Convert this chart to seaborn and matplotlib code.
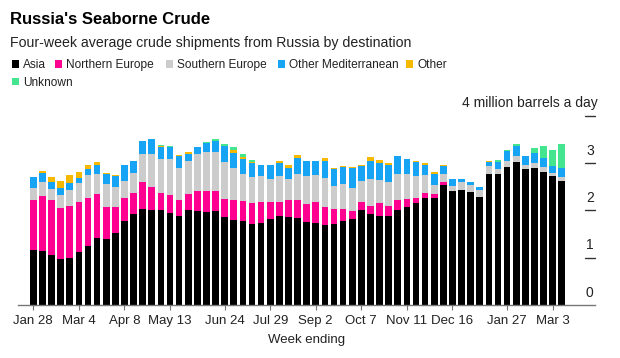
import numpy as np
import pandas as pd
import matplotlib
matplotlib.use('Agg')
import matplotlib.pyplot as plt
import matplotlib.transforms as mtransforms
from matplotlib.patches import Rectangle
import seaborn as sns

# weekly data, week ending Fridays
WEEKS = pd.date_range('2022-01-28', periods=59, freq='7D').strftime('%Y-%m-%d').tolist()

# million barrels a day, four-week average
asia = [1.16, 1.15, 1.06, 0.97, 0.99, 1.11, 1.25, 1.41, 1.39, 1.53,
        1.78, 1.92, 2.03, 2.01, 2.01, 1.95, 1.88, 2.01, 1.99, 1.97,
        1.98, 1.85, 1.80, 1.78, 1.71, 1.74, 1.82, 1.88, 1.85, 1.84,
        1.75, 1.74, 1.70, 1.72, 1.78, 1.81, 2.01, 1.92, 1.88, 1.88,
        2.01, 2.08, 2.16, 2.27, 2.26, 2.54, 2.40, 2.43, 2.39, 2.29,
        2.78, 2.77, 2.92, 3.02, 2.87, 2.89, 2.81, 2.73, 2.62]
northern_europe = [1.06, 1.16, 1.15, 1.09, 1.10, 1.07, 1.02, 0.94, 0.68, 0.54,
                   0.48, 0.44, 0.58, 0.49, 0.36, 0.38, 0.33, 0.34, 0.42, 0.43,
                   0.42, 0.39, 0.42, 0.42, 0.44, 0.44, 0.36, 0.30, 0.37, 0.38,
                   0.38, 0.44, 0.37, 0.30, 0.26, 0.18, 0.16, 0.18, 0.27, 0.22,
                   0.21, 0.16, 0.10, 0.09, 0.08, 0.06, 0.01, 0.0, 0.0, 0.0,
                   0.0, 0.0, 0.0, 0.0, 0.0, 0.0, 0.0, 0.0, 0.0]
southern_europe = [0.25, 0.30, 0.24, 0.27, 0.34, 0.39, 0.48, 0.43, 0.48, 0.43,
                   0.37, 0.44, 0.58, 0.69, 0.72, 0.75, 0.69, 0.69, 0.78, 0.83,
                   0.83, 0.79, 0.67, 0.57, 0.56, 0.55, 0.48, 0.55, 0.44, 0.55,
                   0.60, 0.57, 0.61, 0.50, 0.52, 0.49, 0.46, 0.56, 0.49, 0.51,
                   0.56, 0.54, 0.47, 0.39, 0.20, 0.17, 0.11, 0.16, 0.15, 0.14,
                   0.16, 0.10, 0.13, 0.13, 0.09, 0.11, 0.10, 0.07, 0.09]
other_med = [0.24, 0.19, 0.14, 0.14, 0.14, 0.12, 0.12, 0.19, 0.23, 0.23,
             0.34, 0.24, 0.28, 0.33, 0.26, 0.27, 0.24, 0.15, 0.14, 0.20,
             0.24, 0.34, 0.33, 0.31, 0.29, 0.23, 0.29, 0.28, 0.24, 0.34,
             0.32, 0.30, 0.37, 0.35, 0.35, 0.42, 0.31, 0.39, 0.36, 0.36,
             0.38, 0.31, 0.29, 0.22, 0.24, 0.17, 0.14, 0.07, 0.07, 0.06,
             0.08, 0.16, 0.21, 0.21, 0.20, 0.22, 0.19, 0.14, 0.19]
other = [0.0, 0.03, 0.11, 0.15, 0.18, 0.13, 0.10, 0.05, 0.01, 0.02,
         0.0, 0.0, 0.0, 0.0, 0.01, 0.0, 0.03, 0.04, 0.0, 0.0,
         0.0, 0.0, 0.05, 0.04, 0.03, 0.0, 0.02, 0.03, 0.07, 0.06,
         0.0, 0.0, 0.05, 0.02, 0.03, 0.02, 0.03, 0.07, 0.07, 0.03,
         0.0, 0.0, 0.03, 0.04, 0.03, 0.01, 0.0, 0.0, 0.0, 0.0,
         0.02, 0.0, 0.0, 0.01, 0.0, 0.0, 0.0, 0.0, 0.0]
unknown = [0.0, 0.0, 0.0, 0.0, 0.0, 0.0, 0.0, 0.0, 0.0, 0.0,
           0.0, 0.0, 0.0, 0.0, 0.02, 0.02, 0.0, 0.0, 0.0, 0.02,
           0.05, 0.04, 0.06, 0.07, 0.04, 0.0, 0.0, 0.0, 0.0, 0.0,
           0.0, 0.0, 0.0, 0.0, 0.0, 0.0, 0.0, 0.0, 0.0, 0.0,
           0.0, 0.0, 0.0, 0.0, 0.0, 0.0, 0.0, 0.0, 0.0, 0.0,
           0.0, 0.04, 0.02, 0.03, 0.0, 0.09, 0.26, 0.34, 0.50]

SERIES = ['Asia', 'Northern Europe', 'Southern Europe', 'Other Mediterranean', 'Other', 'Unknown']
COLORS = ['#000000', '#ff0090', '#cccccc', '#17a4f5', '#f6b900', '#45e48f']

TICK_POS = [0, 5, 10, 15, 21, 26, 31, 36, 41, 46, 52, 57]
TICK_LABELS = ['Jan 28', 'Mar 4', 'Apr 8', 'May 13', 'Jun 24', 'Jul 29',
               'Sep 2', 'Oct 7', 'Nov 11', 'Dec 16', 'Jan 27', 'Mar 3']
Y_TICKS = [0, 1, 2, 3, 4]

sns.set_style('white')
plt.rcParams['font.family'] = ['Liberation Sans', 'DejaVu Sans']

df = pd.DataFrame({'week': WEEKS, 'Asia': asia, 'Northern Europe': northern_europe,
                   'Southern Europe': southern_europe, 'Other Mediterranean': other_med,
                   'Other': other, 'Unknown': unknown})
cum = df[SERIES].cumsum(axis=1)
cum['week'] = df['week']

fig = plt.figure(figsize=(6.2, 3.58), dpi=100)
ax = fig.add_axes([18 / 620, 53 / 358, 577 / 620, 189.2 / 358])

# stacked bars: draw cumulative totals from the top layer down
for name, color in reversed(list(zip(SERIES, COLORS))):
    sns.barplot(data=cum, x='week', y=name, order=WEEKS, color=color,
                saturation=1, width=0.73, linewidth=0, errorbar=None, ax=ax)

ax.set_xlim(-1.68, 61.65)
ax.set_ylim(0, 4)
ax.set_ylabel('')
ax.set_xticks(TICK_POS)
ax.set_xticklabels(TICK_LABELS, fontsize=9.5, color='#222222')
ax.set_yticks([])
ax.tick_params(axis='x', length=3.5, width=0.8, color='#777777', pad=4, bottom=True)
ax.set_xlabel('Week ending', fontsize=9.5, color='#222222', labelpad=5)
for s in ['top', 'right', 'left']:
    ax.spines[s].set_visible(False)
ax.spines['bottom'].set_color('#777777')
ax.spines['bottom'].set_linewidth(1.0)

# y ticks on the right, label above a short tick line
trans = mtransforms.blended_transform_factory(ax.transAxes, ax.transData)
for v in Y_TICKS:
    if v > 0:
        ax.plot([0.983, 1.0], [v, v], color='#333333', lw=1.0, transform=trans, clip_on=False)
    if v < 4:
        ax.text(0.991, v + 0.26, str(v), transform=trans, ha='center', va='center',
                fontsize=10, color='#222222')
    else:
        ax.text(1.004, v + 0.28, '4 million barrels a day', transform=trans,
                ha='right', va='center', fontsize=10, color='#222222')

# title and subtitle
fig.text(10 / 620, 1 - 23.5 / 358, "Russia's Seaborne Crude", fontsize=12,
         fontweight='bold', color='#000000', va='baseline')
fig.text(10 / 620, 1 - 46.7 / 358, 'Four-week average crude shipments from Russia by destination',
         fontsize=10.2, color='#222222', va='baseline')

# legend
legend_pos = [(11.7, 68.3), (55, 68.3), (165.7, 68.3), (277.7, 68.3), (406, 68.3), (11.7, 85.7)]
for (px, py), name, color in zip(legend_pos, SERIES, COLORS):
    fig.add_artist(Rectangle((px / 620, 1 - (py - 0.5) / 358), 7 / 620, 7.5 / 358,
                             transform=fig.transFigure, facecolor=color, edgecolor='none'))
    fig.text((px + 11) / 620, 1 - py / 358, name, fontsize=8.6, color='#222222', va='baseline')

plt.savefig('out.png', dpi=100)
plt.close()
